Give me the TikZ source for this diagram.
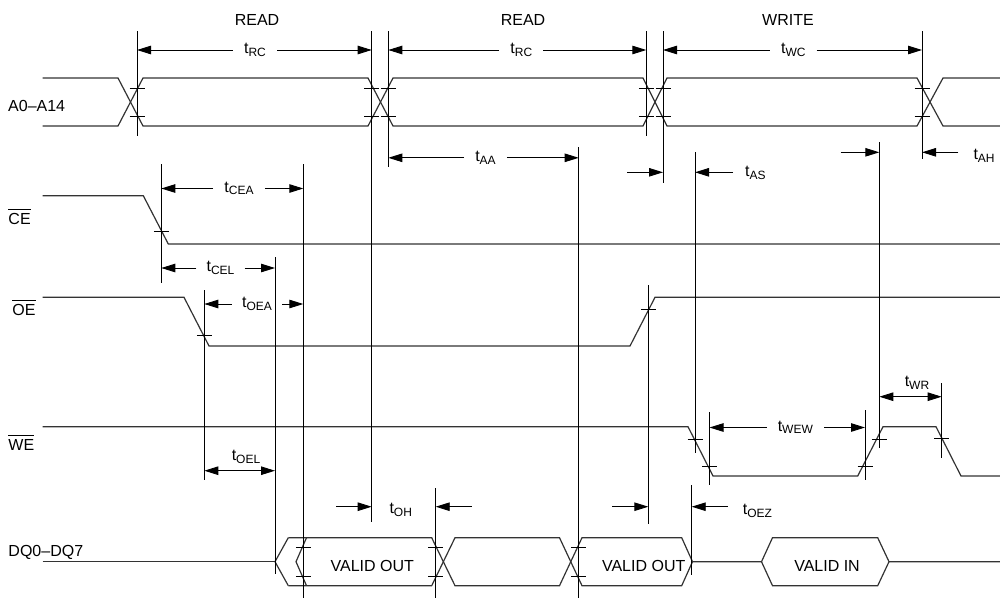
\documentclass[tikz,border=0pt]{standalone}
\usepackage{fontspec}
\setmainfont{Liberation Sans}
\usetikzlibrary{arrows.meta}
\newcommand\tm[1]{t\raisebox{-2.5pt}{\fontsize{12}{12}\selectfont #1}}
\newcommand\ovl[1]{{\setbox0\hbox{#1}\rlap{\rule[\dimexpr\ht0+3pt\relax]{\wd0}{0.9pt}}\box0}}
\begin{document}
\begin{tikzpicture}[x=1pt,y=-1pt,
  sig/.style={line width=1.2pt, draw=black!80},
  refl/.style={line width=0.9pt},
  tickl/.style={line width=0.9pt},
  tip/.tip={Triangle[length=14pt,width=8.5pt]},
  dim/.style={line width=0.9pt,-tip},
  dimb/.style={line width=0.9pt,tip-tip},
  lbl/.style={font=\fontsize{16}{19}\selectfont, inner sep=0pt},
  tl/.style={font=\fontsize{16}{19}\selectfont, inner ysep=0pt, inner xsep=11pt},
]
\useasboundingbox (0,0) rectangle (1000,598);

% ---- signal names
\node[lbl,anchor=base west] (nA) at (8,111.7) {A0–A14};
\node[lbl,anchor=base west] (nCE) at (8.3,224) {\ovl{CE}};
\node[lbl,anchor=base west] (nOE) at (12.3,315) {\ovl{OE}};
\node[lbl,anchor=base west] (nWE) at (8.3,450) {\ovl{WE}};
\node[lbl,anchor=base west] (nDQ) at (8.3,556.7) {DQ0–DQ7};
\node[lbl,anchor=base] (r1) at (257,25) {READ};
\node[lbl,anchor=base] (r2) at (523,25) {READ};
\node[lbl,anchor=base] (w1) at (788,25) {WRITE};

% ---- waveforms
% address bus
\draw[sig] (42.7,78) -- (118,78) -- (143,126) -- (368,126) -- (393,78) -- (643,78) -- (667,126) -- (917,126) -- (943,78) -- (1000,78);
\draw[sig] (42.7,126) -- (118,126) -- (143,78) -- (368,78) -- (393,126) -- (643,126) -- (667,78) -- (917,78) -- (943,126) -- (1000,126);
% CE
\draw[sig] (42.7,195.7) -- (143.3,195.7) -- (168.3,244) -- (1000,244);
% OE
\draw[sig] (42.7,297.3) -- (184,297.3) -- (209,346) -- (630,346) -- (655,297.3) -- (1000,297.3);
% WE
\draw[sig] (42.7,426.7) -- (688,426.7) -- (713,476) -- (857.7,476) -- (883,426.7) -- (936,426.7) -- (961,476) -- (1000,476);
% DQ
\draw[sig] (42.7,561.7) -- (275,561.7);
\draw[sig] (288.3,537.7) -- (275,561.7) -- (288.3,585.7);
\draw[sig] (306.5,537.7) -- (296,561.7) -- (306.5,585.7);
\draw[sig] (288.3,537.7) -- (431.7,537.7) -- (455,585.7) -- (559.5,585.7) -- (582,537.7) -- (681.7,537.7) -- (692.5,561.7) -- (761.5,561.7) -- (772.5,537.7) -- (877.7,537.7) -- (889,561.7) -- (1000,561.7);
\draw[sig] (288.3,585.7) -- (431.7,585.7) -- (455,537.7) -- (559.5,537.7) -- (582,585.7) -- (681.7,585.7) -- (692.5,561.7);
\draw[sig] (761.5,561.7) -- (772.5,585.7) -- (877.7,585.7) -- (889,561.7);
\node[lbl,anchor=base] (vo1) at (372.3,571) {VALID OUT};
\node[lbl,anchor=base] (vo2) at (643.7,571) {VALID OUT};
\node[lbl,anchor=base] (vi1) at (827,571) {VALID IN};

% ---- reference verticals
\foreach \n/\x/\ya/\yb in {vA/137/31/136, vB/371.7/31/522, vC/388.3/31/167, vD/646.3/31/136,
  vE/663/31/183, vF/922/31/159, vG/161.3/164/283, vH/303.3/164/598, vI/275/257/574,
  vJ/204.3/290/480, vK/578.7/147/598, vL/648.3/285/524, vM/695/152/453, vN/709.5/412/485,
  vO/691.7/485/575, vP/865/410/480, vQ/879.3/142/448, vR/941.7/383/458, vS/435.7/488/598}
{
  \coordinate (\n) at (\x,\ya);
  \coordinate (\n e) at (\x,\yb);
  \draw[refl] (\n) -- (\n e);
}

% ---- ticks
\foreach \x/\y in {137/88, 137/116, 371.7/88, 371.7/116, 388.3/88, 388.3/116, 646.3/88, 646.3/116,
  663/88, 663/116, 922/88, 922/116, 161.3/231, 204.3/335, 648.3/309.3,
  695/439.3, 709.5/466, 865/466, 879.3/439.3, 941.7/438.7,
  303.3/547.7, 303.3/576.7, 435.7/547.7, 435.7/576.7, 578.7/547.7, 578.7/576.7}
  \draw[tickl] (\x,\y) ++(-7.5,0) -- ++(15,0);

% ---- dimensions with gapped labels
\node[tl] (lRC1) at (255,50) {\tm{RC}};
\draw[dim] (lRC1.west) -- (lRC1.west -| vA);
\draw[dim] (lRC1.east) -- (lRC1.east -| vB);
\node[tl] (lRC2) at (521.3,50) {\tm{RC}};
\draw[dim] (lRC2.west) -- (lRC2.west -| vC);
\draw[dim] (lRC2.east) -- (lRC2.east -| vD);
\node[tl] (lWC) at (793.3,50) {\tm{WC}};
\draw[dim] (lWC.west) -- (lWC.west -| vE);
\draw[dim] (lWC.east) -- (lWC.east -| vF);
\node[tl] (lAA) at (485.5,157.8) {\tm{AA}};
\draw[dim] (lAA.west) -- (lAA.west -| vC);
\draw[dim] (lAA.east) -- (lAA.east -| vK);
\node[tl] (lCEA) at (239,188.5) {\tm{CEA}};
\draw[dim] (lCEA.west) -- (lCEA.west -| vG);
\draw[dim] (lCEA.east) -- (lCEA.east -| vH);
\node[tl,inner xsep=10pt] (lCEL) at (220.5,268) {\tm{CEL}};
\draw[dim] (lCEL.west) -- (lCEL.west -| vG);
\draw[dim] (lCEL.east) -- (lCEL.east -| vI);
\node[tl,inner xsep=10pt] (lOEA) at (257,304) {\tm{OEA}};
\draw[dim] (lOEA.west) -- (lOEA.west -| vJ);
\draw[dim] (lOEA.east) -- (lOEA.east -| vH);
\node[tl] (lWEW) at (795.3,427.5) {\tm{WEW}};
\draw[dim] (lWEW.west) -- (lWEW.west -| vN);
\draw[dim] (lWEW.east) -- (lWEW.east -| vP);

% ---- dimensions with label above
\node[lbl] (lOEL) at (246,456.7) {\tm{OEL}};
\coordinate (oel) at (240,470.7);
\draw[dimb] (oel -| vJ) -- (oel -| vI);
\node[lbl] (lWR) at (917,383) {\tm{WR}};
\coordinate (wr) at (910,396.7);
\draw[dimb] (wr -| vQ) -- (wr -| vR);

% ---- outside arrows
\coordinate (as1) at (627,172.3);
\coordinate (as2) at (733,172.3);
\draw[dim] (as1) -- (as1 -| vE);
\draw[dim] (as2) -- (as2 -| vM);
\node[lbl,anchor=west] (lAS) at (745,173) {\tm{AS}};
\coordinate (ah1) at (840.7,152.3);
\coordinate (ah2) at (958.3,152.3);
\draw[dim] (ah1) -- (ah1 -| vQ);
\draw[dim] (ah2) -- (ah2 -| vF);
\node[lbl,anchor=west] (lAH) at (973.3,156) {\tm{AH}};
\coordinate (oh1) at (336,506.7);
\coordinate (oh2) at (471.7,506.7);
\draw[dim] (oh1) -- (oh1 -| vB);
\draw[dim] (oh2) -- (oh2 -| vS);
\node[lbl,anchor=west] (lOH) at (389.3,510) {\tm{OH}};
\coordinate (oz1) at (612.3,506.7);
\coordinate (oz2) at (727.7,506.7);
\draw[dim] (oz1) -- (oz1 -| vL);
\draw[dim] (oz2) -- (oz2 -| vO);
\node[lbl,anchor=west] (lOEZ) at (742.7,510.7) {\tm{OEZ}};
\end{tikzpicture}
\end{document}
